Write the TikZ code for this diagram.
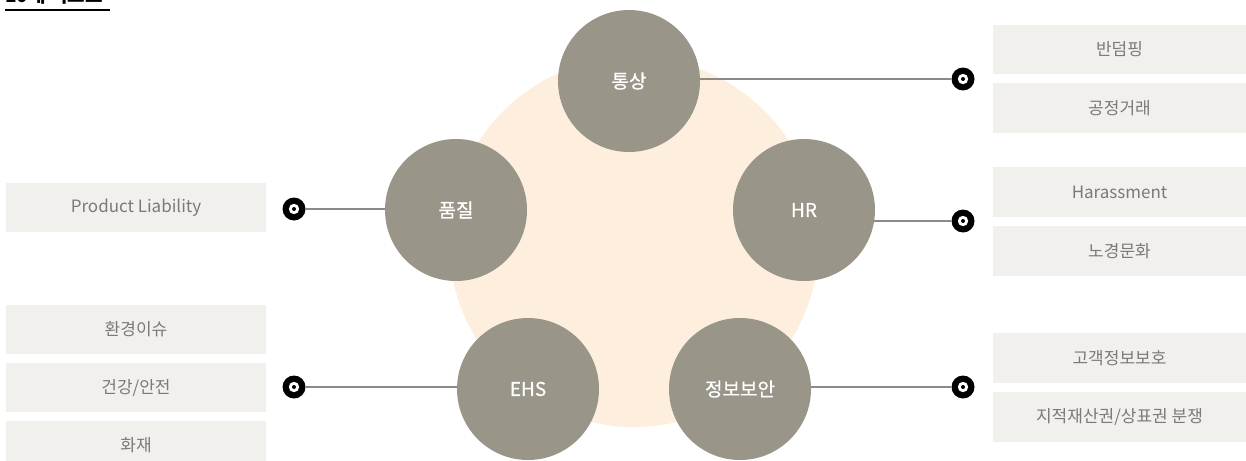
\documentclass[tikz,border=0pt]{standalone}
\usepackage{fontspec}
\setmainfont{Noto Sans CJK KR}
\newfontfamily\circfont[FakeBold=0.6]{Noto Sans CJK KR}
\usetikzlibrary{backgrounds}
\definecolor{peach}{RGB}{253,238,222}
\definecolor{riskgray}{RGB}{153,149,137}
\definecolor{boxfill}{RGB}{242,240,236}
\definecolor{boxtext}{RGB}{122,122,122}
\definecolor{linegray}{RGB}{140,138,132}
\tikzset{
  riskcircle/.style={circle, fill=riskgray, minimum size=142pt, inner sep=0pt, text=white, font=\circfont\fontsize{19}{21}\selectfont},
  itembox/.style={rectangle, fill=boxfill, minimum height=49.5pt, inner sep=0pt, text=boxtext, font=\fontsize{17}{19}\selectfont},
  rbox/.style={itembox, minimum width=253pt},
  lbox/.style={itembox, minimum width=260pt},
  dotmark/.style={circle, fill=black, minimum size=23pt, inner sep=0pt,
    path picture={\fill[white] (path picture bounding box.center) circle (5.2pt);
                  \fill[black] (path picture bounding box.center) circle (2pt);}},
  link/.style={draw=linegray, line width=1.2pt}
}
\begin{document}
\begin{tikzpicture}[x=1pt, y=-1pt]
\useasboundingbox (0,0) rectangle (1246,460);
\begin{scope}
\clip (0,0) rectangle (1246,460);
% title (cut off at the top, as in the reference)
\node[anchor=base west, inner sep=0pt, font=\fontsize{19}{21}\selectfont\bfseries] (title) at (5,3) {10대 리스크};
\fill[black] (5,9.3) rectangle (110,11.3);

% risk circles
\node[riskcircle] (trade) at (629,81) {통상};
\node[riskcircle] (quality) at (456,210) {품질};
\node[riskcircle] (hr) at (804,210) {HR};
\node[riskcircle] (ehs) at (528,389) {EHS};
\node[riskcircle] (sec) at (740,389) {정보보안};

% markers
\node[dotmark] (dtrade) at (963,79) {};
\node[dotmark] (dhr) at (963,221) {};
\node[dotmark] (dsec) at (963,387) {};
\node[dotmark] (dquality) at (294,209) {};
\node[dotmark] (dehs) at (294,387) {};

% boxes right
\node[rbox] (b1) at (1119.5,49.5) {반덤핑};
\node[rbox] (b2) at (1119.5,108) {공정거래};
\node[rbox] (b3) at (1119.5,192) {Harassment};
\node[rbox] (b4) at (1119.5,251) {노경문화};
\node[rbox] (b5) at (1119.5,358) {고객정보보호};
\node[rbox] (b6) at (1119.5,417) {지적재산권/상표권 분쟁};
% boxes left
\node[lbox] (b7) at (136,207.5) {Product Liability};
\node[lbox] (b8) at (136,329.5) {환경이슈};
\node[lbox] (b9) at (136,387.5) {건강/안전};
\node[lbox] (b10) at (136,445.5) {화재};

\begin{scope}[on background layer]
\fill[peach] (634,242) circle (185pt);
\draw[link] (dtrade) -- (dtrade -| trade);
\draw[link] (dhr) -- (dhr -| hr);
\draw[link] (dsec) -- (dsec -| sec);
\draw[link] (dquality) -- (dquality -| quality);
\draw[link] (dehs) -- (dehs -| ehs);
\end{scope}
\end{scope}
\end{tikzpicture}
\end{document}
